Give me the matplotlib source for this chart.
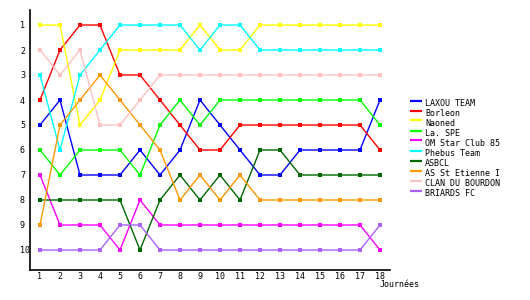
import matplotlib
matplotlib.use("Agg")
import matplotlib.pyplot as plt
from matplotlib.lines import Line2D

journees = list(range(1, 19))

teams = ["LAXOU TEAM", "Borleon", "Naoned", "La. SPE", "OM Star Club 85",
         "Phebus Team", "ASBCL", "AS St Etienne I", "CLAN DU BOURDON", "BRIARDS FC"]

laxou = [5, 4, 7, 7, 7, 6, 7, 6, 4, 5, 6, 7, 7, 6, 6, 6, 6, 4]
borleon = [4, 2, 1, 1, 3, 3, 4, 5, 6, 6, 5, 5, 5, 5, 5, 5, 5, 6]
naoned = [1, 1, 5, 4, 2, 2, 2, 2, 1, 2, 2, 1, 1, 1, 1, 1, 1, 1]
la_spe = [6, 7, 6, 6, 6, 7, 5, 4, 5, 4, 4, 4, 4, 4, 4, 4, 4, 5]
om_star = [7, 9, 9, 9, 10, 8, 9, 9, 9, 9, 9, 9, 9, 9, 9, 9, 9, 10]
phebus = [3, 6, 3, 2, 1, 1, 1, 1, 2, 1, 1, 2, 2, 2, 2, 2, 2, 2]
asbcl = [8, 8, 8, 8, 8, 10, 8, 7, 8, 7, 8, 6, 6, 7, 7, 7, 7, 7]
as_st_etienne = [9, 5, 4, 3, 4, 5, 6, 8, 7, 8, 7, 8, 8, 8, 8, 8, 8, 8]
clan = [2, 3, 2, 5, 5, 4, 3, 3, 3, 3, 3, 3, 3, 3, 3, 3, 3, 3]
briards = [10, 10, 10, 10, 9, 9, 10, 10, 10, 10, 10, 10, 10, 10, 10, 10, 10, 9]

series = [laxou, borleon, naoned, la_spe, om_star, phebus, asbcl,
          as_st_etienne, clan, briards]
colors = ["#0000ff", "#ff0000", "#ffff00", "#00ff00", "#ff00ff",
          "#00ffff", "#006600", "#ff9900", "#ffc0c0", "#aa60ff"]

plt.rcParams["font.family"] = ["DejaVu Sans Mono"]
FS = 6.0

W, H = 530, 300
fig = plt.figure(figsize=(W / 100, H / 100), dpi=100)
ax = fig.add_axes([30 / W, 30 / H, 360 / W, 260 / H])

for name, vals, c in zip(teams, series, colors):
    ax.plot(journees, vals, color=c, lw=1.0, marker="s", markersize=2.2,
            markeredgewidth=0, label=name)

ax.set_xlim(0.5, 18.5)
ax.set_ylim(10.8, 0.4)
ax.set_xticks(journees)
ax.set_yticks(range(1, 11))
ax.tick_params(length=0, labelsize=FS)
ax.tick_params(axis="x", pad=1.5)
ax.tick_params(axis="y", pad=7.2)
for lab in ax.get_yticklabels():
    lab.set_ha("left")
for s in ["top", "right"]:
    ax.spines[s].set_visible(False)
for s in ["left", "bottom"]:
    ax.spines[s].set_linewidth(1.2)

fig.text(380 / W, 1 - 287 / H, "Journées", fontsize=FS, va="baseline")

# legend drawn by hand: short thick line sitting at the top of each label
for i, (name, c) in enumerate(zip(teams, colors)):
    base = 106 + 10 * i
    fig.add_artist(Line2D([410 / W, 422 / W], [1 - (base - 5.5) / H] * 2,
                          color=c, lw=1.6, solid_capstyle="butt"))
    fig.text(425 / W, 1 - base / H, name, fontsize=FS, va="baseline")

fig.savefig("out.png", dpi=100)
